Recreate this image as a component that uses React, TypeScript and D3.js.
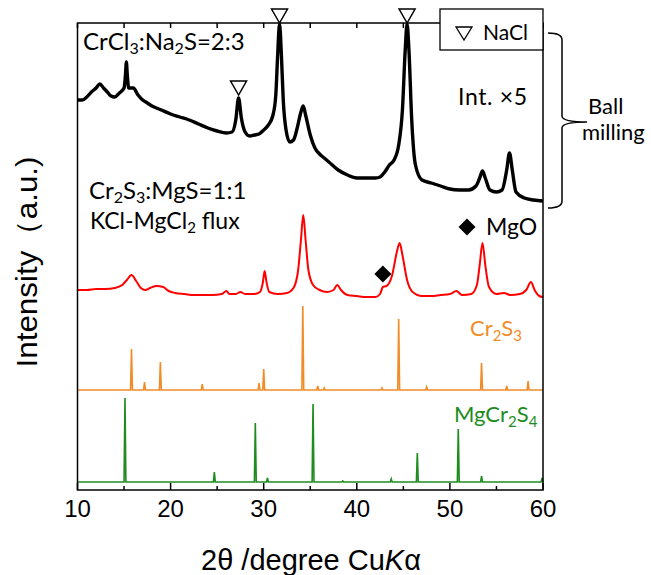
import React from "react";
import * as d3 from "d3";

// 2θ (deg) vs intensity (a.u.)
const ballMilled: [number, number][] = [
  [10.0,390],[10.5,390],[11.0,393],[11.5,398],[12.0,402],[12.4,406],[12.8,402],[13.2,398],[13.6,394],[14.0,393],[14.5,397],[15.0,402],[15.15,415],[15.25,428],[15.35,415],[15.5,402],[16.0,402],[16.5,395],[17.0,390],[17.5,387],[18.0,384],[19.0,380],[20.0,376],[21.0,373],[22.0,370],[23.0,366],[24.0,362],[25.0,359],[26.0,357],[26.6,358],[27.0,370],[27.3,392],[27.6,372],[28.0,358],[28.5,354],[29.0,355],[29.5,356],[30.0,360],[30.5,365],[31.0,375],[31.3,395],[31.5,435],[31.7,466],[31.9,435],[32.1,390],[32.4,360],[32.8,348],[33.2,350],[33.6,362],[34.0,378],[34.25,384],[34.5,375],[35.0,355],[35.5,342],[36.0,336],[36.5,332],[37.0,328],[38.0,320],[39.0,315],[40.0,312],[41.0,312],[42.0,312],[42.5,313],[43.0,318],[43.5,325],[44.0,330],[44.5,345],[44.9,380],[45.2,440],[45.4,466],[45.6,440],[45.9,370],[46.3,325],[47.0,310],[48.0,307],[49.0,304],[50.0,301],[51.0,300],[52.0,300],[52.8,304],[53.2,312],[53.5,319],[53.8,312],[54.3,300],[55.0,298],[55.6,300],[56.1,320],[56.4,337],[56.7,320],[57.1,298],[58.0,292],[59.0,290],[60.0,289]
];

const fluxGrown: [number, number][] = [
  [10,200],[11,200],[12,201],[13,201],[14,202],[14.8,205],[15.3,210],[15.8,215],[16.3,209],[16.8,202],[17.3,200],[17.8,202],[18.5,204],[19.2,203],[19.8,199],[20.5,197],[21.5,196],[22.5,195],[23.5,195],[24.5,195],[25.5,196],[26.0,199],[26.3,196],[27.0,196],[27.5,198],[28.0,196],[29.0,196],[29.6,198],[29.9,207],[30.1,219],[30.3,208],[30.6,198],[31.5,196],[32.5,197],[33.2,202],[33.7,220],[34.0,250],[34.25,275],[34.5,250],[34.8,220],[35.3,205],[36.0,200],[36.8,198],[37.5,200],[37.9,205],[38.3,200],[39,195],[40,194],[41,193],[42,193],[42.5,196],[42.8,203],[43.2,204],[43.8,215],[44.3,238],[44.6,247],[44.9,235],[45.4,210],[46.0,198],[47,194],[48,194],[49,195],[50,196],[50.7,199],[51.3,195],[52.3,196],[52.9,205],[53.2,225],[53.5,247],[53.8,225],[54.2,203],[55,196],[55.8,197],[56.5,195],[57.5,196],[58.2,200],[58.7,208],[59.1,200],[59.6,194],[60,193]
];

const cr2s3Base = 100;
const cr2s3Pos = [15.8, 17.2, 18.9, 23.4, 29.5, 30.0, 34.2, 35.8, 36.5, 42.7, 44.5, 47.5, 53.4, 56.1, 58.4];
const cr2s3Int = [141, 108, 128, 106, 107, 121, 184, 104, 102, 102, 171, 103, 127, 104, 109];

const mgcr2s4Base = 8;
const mgcr2s4Pos = [15.1, 24.7, 29.1, 30.4, 35.3, 38.5, 43.7, 46.5, 50.9, 53.4, 59.9];
const mgcr2s4Int = [92, 18, 67, 12, 86, 9, 11, 37, 61, 14, 12];

const naclMarks: [number, number][] = [[27.3, 395], [31.7, 467], [45.4, 467]];
const mgoMarks: [number, number][] = [[42.8, 216]];

const xTicks = [10, 20, 30, 40, 50, 60];
const xMinor = [15, 25, 35, 45, 55];

function sticks(base: number, pos: number[], ints: number[]): [number, number][] {
  const pts: [number, number][] = [[10, base]];
  pos.forEach((p, i) => {
    pts.push([p - 0.1, base], [p, ints[i]], [p + 0.1, base]);
  });
  pts.push([60, base]);
  return pts;
}

export default function App() {
  const L = 77.5, R = 543, T = 23, B = 490;
  const x = d3.scaleLinear().domain([10, 60]).range([L, R]);
  const y = d3.scaleLinear().domain([0, 467]).range([B, T]);
  const line = d3.line<[number, number]>().x(d => x(d[0])).y(d => y(d[1])).curve(d3.curveMonotoneX);
  const stickLine = d3.line<[number, number]>().x(d => x(d[0])).y(d => y(d[1]));
  const sans = "'Liberation Sans', Arial, sans-serif";
  const cal = "Lato, 'Noto Sans', sans-serif";
  const orange = "#f28c28";
  const green = "#1e8c1e";

  return (
    <svg width={651} height={575} style={{ position: "absolute", left: 0, top: 0, background: "#fff" }}>
      {/* traces */}
      <path d={stickLine(sticks(mgcr2s4Base, mgcr2s4Pos, mgcr2s4Int)) || ""} fill="none" stroke={green} strokeWidth={1.6} />
      <path d={stickLine(sticks(cr2s3Base, cr2s3Pos, cr2s3Int)) || ""} fill="none" stroke={orange} strokeWidth={1.6} />
      <path d={line(fluxGrown) || ""} fill="none" stroke="#ff0000" strokeWidth={2} />
      <path d={line(ballMilled) || ""} fill="none" stroke="#000" strokeWidth={3.4} strokeLinejoin="round" />

      {/* frame */}
      <rect x={L} y={T} width={R - L} height={B - T} fill="none" stroke="#000" strokeWidth={1.5} />
      {xTicks.map(t => (
        <g key={"M" + t}>
          <line x1={x(t)} x2={x(t)} y1={B} y2={B - 7} stroke="#000" strokeWidth={1.5} />
          <line x1={x(t)} x2={x(t)} y1={T} y2={T + 5} stroke="#000" strokeWidth={1.5} />
          <text x={x(t)} y={517} textAnchor="middle" fontFamily={sans} fontSize={24}>{t}</text>
        </g>
      ))}
      {xMinor.map(t => (
        <g key={"m" + t}>
          <line x1={x(t)} x2={x(t)} y1={B} y2={B - 4} stroke="#000" strokeWidth={1.5} />
          <line x1={x(t)} x2={x(t)} y1={T} y2={T + 5} stroke="#000" strokeWidth={1.5} />
        </g>
      ))}

      {/* NaCl markers */}
      {naclMarks.map(([p, v], i) => {
        const cx = x(p), cy = y(v);
        return <path key={"n" + i} d={`M${cx},${cy} L${cx - 8},${cy - 14} L${cx + 8},${cy - 14} Z`} fill="none" stroke="#000" strokeWidth={1.5} strokeLinejoin="miter" />;
      })}
      {/* MgO markers */}
      {mgoMarks.map(([p, v], i) => {
        const cx = x(p), cy = y(v);
        return <path key={"g" + i} d={`M${cx},${cy - 8.5} L${cx + 8.5},${cy} L${cx},${cy + 8.5} L${cx - 8.5},${cy} Z`} fill="#000" />;
      })}

      {/* legend NaCl */}
      <rect x={440} y={9} width={R - 440} height={41} fill="#fff" stroke="#000" strokeWidth={1.3} />
      <path d="M456,27 L472,27 L464,40 Z" fill="none" stroke="#000" strokeWidth={1.3} />
      <text x={483} y={40} fontFamily={cal} fontSize={21}>NaCl</text>
      {/* legend MgO */}
      <path d="M467,218.5 L475.5,227 L467,235.5 L458.5,227 Z" fill="#000" />
      <text x={486} y={235} fontFamily={cal} fontSize={23}>MgO</text>

      {/* annotations */}
      <text x={83} y={50} fontFamily={cal} fontSize={24}>
        CrCl<tspan dy={4} fontSize={16}>3</tspan><tspan dy={-4}>:Na</tspan><tspan dy={4} fontSize={16}>2</tspan><tspan dy={-4}>S=2:3</tspan>
      </text>
      <text x={458} y={105} fontFamily={cal} fontSize={23} textLength={69} lengthAdjust="spacing">Int. ×5</text>
      <text x={89} y={199} fontFamily={cal} fontSize={24}>
        Cr<tspan dy={4} fontSize={16}>2</tspan><tspan dy={-4}>S</tspan><tspan dy={4} fontSize={16}>3</tspan><tspan dy={-4}>:MgS=1:1</tspan>
      </text>
      <text x={90} y={229} fontFamily={cal} fontSize={23}>
        KCl-MgCl<tspan dy={4} fontSize={15}>2</tspan><tspan dy={-4}> flux</tspan>
      </text>
      <text x={470} y={336} fontFamily={cal} fontSize={22} fill={orange}>
        Cr<tspan dy={5} fontSize={15}>2</tspan><tspan dy={-5}>S</tspan><tspan dy={5} fontSize={15}>3</tspan>
      </text>
      <text x={454} y={422} fontFamily={cal} fontSize={22} fill={green}>
        MgCr<tspan dy={5} fontSize={15}>2</tspan><tspan dy={-5}>S</tspan><tspan dy={5} fontSize={15}>4</tspan>
      </text>

      {/* bracket */}
      <path d="M548,33 Q562,33 562,40 L562,116 Q562,122 587,122 Q562,122 562,128 L562,201 Q562,208 548,208" fill="none" stroke="#000" strokeWidth={1.5} />
      <text x={588} y={114} fontFamily={cal} fontSize={22}>Ball</text>
      <text x={582} y={140} fontFamily={cal} fontSize={22}>milling</text>

      {/* axis titles */}
      <text x={311} y={570} textAnchor="middle" fontFamily={sans} fontSize={29}>
        2θ /degree Cu<tspan fontStyle="italic">K</tspan>α
      </text>
      <text transform="translate(37,262) rotate(-90)" textAnchor="middle" fontFamily={sans} fontSize={29} textLength={211} lengthAdjust="spacingAndGlyphs">
        Intensity（a.u.)
      </text>
    </svg>
  );
}
